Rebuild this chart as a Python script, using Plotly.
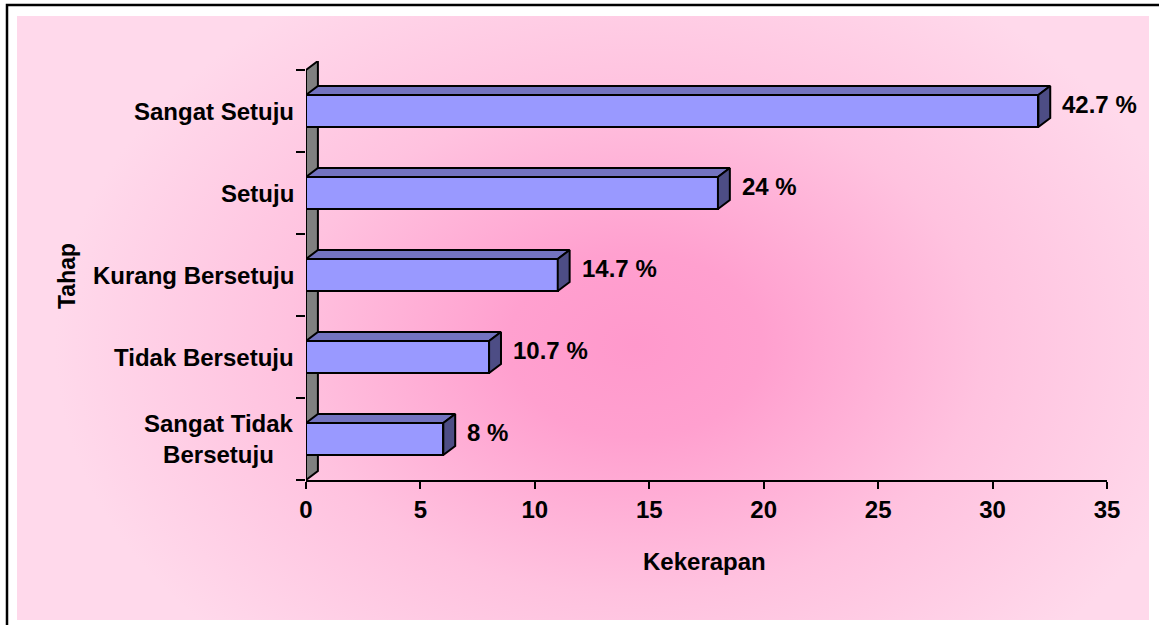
import base64
import plotly.graph_objects as go

# ---- data ----
categories = ["Sangat Tidak<br>Bersetuju", "Tidak Bersetuju", "Kurang Bersetuju", "Setuju", "Sangat Setuju"]
values = [6, 8, 11, 18, 32]
pct_labels = ["8 %", "10.7 %", "14.7 %", "24 %", "42.7 %"]
x_ticks = [0, 5, 10, 15, 20, 25, 30, 35]

# ---- geometry / style ----
W, H = 1159, 625
L, R, T, B = 306, 52, 61, 145
PW, PH = W - L - R, H - T - B
X_MAX = 35
DX = 0.52      # 3D depth in x units
DY = 0.11      # 3D depth in category units
BAR_W = 0.39
FONT = "Liberation Sans, Arial, sans-serif"
FS = 24

idx = list(range(len(categories)))
y_lo, y_hi = -0.5, len(categories) - 0.5

# background (chart area with radial pink gradient + border)
svg = f'''<svg xmlns="http://www.w3.org/2000/svg" width="{W}" height="{H}" viewBox="0 0 {W} {H}">
<defs><radialGradient id="g" gradientUnits="userSpaceOnUse" cx="635" cy="345" r="580"
 gradientTransform="translate(635 345) scale(1 0.72) translate(-635 -345)">
<stop offset="0" stop-color="#FF99CC"/>
<stop offset="0.22" stop-color="#FFA0CF"/>
<stop offset="0.6" stop-color="#FFC2DF"/>
<stop offset="1" stop-color="#FFD9EB"/>
</radialGradient></defs>
<rect width="{W}" height="{H}" fill="white"/>
<rect x="17" y="16" width="1132" height="604" fill="url(#g)"/>
<path d="M7 {H} V5 H{W}" stroke="black" stroke-width="2.5" fill="none"/>
</svg>'''
src = "data:image/svg+xml;base64," + base64.b64encode(svg.encode()).decode()

fig = go.Figure()

# front faces of bars
fig.add_trace(go.Bar(
    x=values, y=idx, orientation="h", width=BAR_W,
    marker=dict(color="#9999FF", line=dict(color="black", width=2)),
    hoverinfo="skip", showlegend=False,
))

# top faces
tx, ty = [], []
for v, c in zip(values, idx):
    yt = c + BAR_W / 2
    tx += [0, v, v + DX, DX, 0, None]
    ty += [yt, yt, yt + DY, yt + DY, yt, None]
fig.add_trace(go.Scatter(x=tx, y=ty, mode="lines", fill="toself", fillcolor="#7373C0",
                         line=dict(color="black", width=2), hoverinfo="skip", showlegend=False))

# side faces
sx, sy = [], []
for v, c in zip(values, idx):
    yb, yt = c - BAR_W / 2, c + BAR_W / 2
    sx += [v, v, v + DX, v + DX, v, None]
    sy += [yb, yt, yt + DY, yb + DY, yb, None]
fig.add_trace(go.Scatter(x=sx, y=sy, mode="lines", fill="toself", fillcolor="#4D4D85",
                         line=dict(color="black", width=2), hoverinfo="skip", showlegend=False))

annotations = []
# category labels
for c, lab in zip(idx, categories):
    annotations.append(dict(x=0, y=c, xref="x", yref="y", text=lab, showarrow=False,
                            xanchor="right", yanchor="middle", align="center", xshift=-10,
                            font=dict(family=FONT, size=FS, color="black", weight="bold")))
# value labels
for v, c, lab in zip(values, idx, pct_labels):
    annotations.append(dict(x=v + DX, y=c + DY / 2, xref="x", yref="y", text=lab, showarrow=False,
                            xanchor="left", yanchor="middle", xshift=10, yshift=2,
                            font=dict(family=FONT, size=FS, color="black", weight="bold")))
# y axis title
annotations.append(dict(x=(67 - L) / PW, y=(480 - 276) / PH, xref="paper", yref="paper",
                        text="Tahap", textangle=-90, showarrow=False,
                        xanchor="center", yanchor="middle",
                        font=dict(family=FONT, size=23, color="black", weight="bold")))
# x axis title
annotations.append(dict(x=0.5, y=-(561 - 480) / PH, xref="paper", yref="paper",
                        text="Kekerapan", showarrow=False,
                        xanchor="center", yanchor="middle", xshift=-2,
                        font=dict(family=FONT, size=FS, color="black", weight="bold")))

fig.update_layout(
    width=W, height=H,
    margin=dict(l=L, r=R, t=T, b=B, pad=0),
    paper_bgcolor="white", plot_bgcolor="rgba(0,0,0,0)",
    showlegend=False, hovermode=False,
    bargap=0,
    annotations=annotations,
    images=[dict(source=src, xref="paper", yref="paper", x=-L / PW, y=1 + T / PH,
                 sizex=W / PW, sizey=H / PH, xanchor="left", yanchor="top",
                 sizing="stretch", layer="below")],
    shapes=[dict(type="path", xref="x", yref="y", layer="below",
                 path=f"M 0,{y_lo} L 0,{y_hi} L {DX},{y_hi + DY} L {DX},{y_lo + DY} Z",
                 fillcolor="#808080", line=dict(color="black", width=2))],
    xaxis=dict(range=[0, X_MAX], tickvals=x_ticks, ticktext=[str(t) for t in x_ticks],
               showgrid=False, zeroline=False, showline=True, linecolor="black", linewidth=2,
               ticks="outside", ticklen=7, tickwidth=2, tickcolor="black",
               tickfont=dict(family=FONT, size=FS, color="black", weight="bold")),
    yaxis=dict(range=[y_lo, y_hi + DY], tickvals=[i - 0.5 for i in range(len(categories) + 1)],
               showticklabels=False, showgrid=False, zeroline=False, showline=False,
               ticks="outside", ticklen=9, tickwidth=2, tickcolor="black"),
)

fig.write_html("out.html", config={"displayModeBar": False},
               post_script="document.body.style.margin='0';document.body.style.overflow='hidden';")
